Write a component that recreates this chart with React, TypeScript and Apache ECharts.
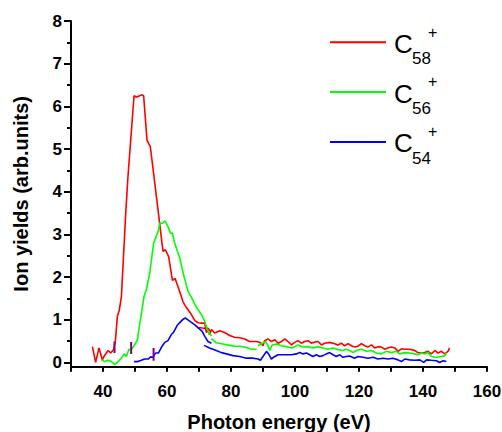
import React, { useEffect, useRef } from "react";
import * as echarts from "echarts";

// C58+ (red)
const c58X = [36.7, 37.7, 38.75, 39.8, 40.3, 41.6, 42.4, 43.4, 43.9, 44.5, 45.1, 45.75, 47.1, 47.8, 49.7, 50.4, 51.25, 52.0, 52.7, 53.75, 54.8, 56.7, 58.75, 59.5, 60.5, 61.7, 62.5, 63.5, 64.5, 65.0, 66.1, 67.3, 68.7, 69.7, 70.8, 71.8, 72.3, 72.8, 73.3, 73.9, 74.9, 76.5, 78.0, 79.6, 81.1, 82.7, 84.3, 85.8, 87.9, 89.0, 90.0, 90.5, 91.6, 92.6, 93.7, 94.7, 95.75, 96.8, 97.8, 98.9, 99.9, 100.9, 102.0, 103.0, 104.1, 105.1, 106.2, 107.2, 108.25, 109.3, 110.8, 112.4, 113.4, 114.5, 115.5, 116.6, 117.6, 118.6, 119.7, 120.75, 121.8, 122.8, 123.9, 124.9, 126.0, 127.0, 128.0, 129.0, 130.1, 131.2, 132.2, 133.25, 134.3, 135.3, 136.4, 137.4, 138.4, 139.5, 140.5, 141.6, 142.6, 143.7, 144.7, 145.75, 146.8, 147.8, 148.3];
const c58Y = [0.37, 0.0, 0.34, 0.06, 0.14, 0.28, 0.22, 0.31, 0.53, 1.08, 1.23, 1.54, 3.49, 4.35, 6.25, 6.22, 6.24, 6.27, 6.25, 5.21, 5.05, 3.88, 2.6, 2.64, 2.48, 1.92, 1.97, 1.76, 1.54, 1.42, 1.28, 1.16, 0.98, 0.93, 0.92, 0.92, 0.7, 0.76, 0.65, 0.77, 0.69, 0.74, 0.7, 0.63, 0.59, 0.58, 0.55, 0.49, 0.49, 0.47, 0.39, 0.51, 0.55, 0.49, 0.53, 0.45, 0.49, 0.55, 0.49, 0.41, 0.47, 0.51, 0.45, 0.49, 0.51, 0.45, 0.48, 0.49, 0.41, 0.45, 0.47, 0.44, 0.41, 0.45, 0.39, 0.44, 0.39, 0.36, 0.38, 0.44, 0.39, 0.36, 0.41, 0.34, 0.37, 0.36, 0.31, 0.34, 0.36, 0.34, 0.26, 0.32, 0.31, 0.31, 0.3, 0.28, 0.23, 0.22, 0.23, 0.26, 0.2, 0.28, 0.22, 0.26, 0.2, 0.26, 0.34];
const c58bX = [70.0, 71.5, 72.8, 73.8];
const c58bY = [0.82, 0.8, 0.8, 0.72];

// C56+ (green)
const c56X = [39.5, 40.5, 41.6, 42.6, 43.7, 44.7, 45.75, 46.6, 47.3, 48.1, 48.9, 49.9, 50.75, 51.5, 52.2, 52.8, 53.6, 54.6, 55.8, 57.2, 57.7, 58.6, 59.4, 60.3, 61.1, 61.7, 62.4, 64.0, 65.2, 66.6, 67.6, 69.2, 70.75, 71.8, 72.5, 73.1, 73.6, 74.0];
const c56Y = [0.06, 0.02, 0.05, 0.02, -0.05, 0.02, 0.1, 0.2, 0.14, 0.3, 0.31, 0.41, 0.53, 0.92, 1.23, 1.54, 1.72, 2.09, 2.79, 3.06, 3.26, 3.26, 3.32, 3.18, 3.03, 3.03, 2.79, 2.44, 2.05, 1.66, 1.53, 1.29, 1.12, 0.96, 0.8, 0.7, 0.65, 0.62];
const c56bX = [73.9, 75.4, 77.5, 79.6, 81.2, 82.7, 84.8, 86.4, 88.0];
const c56bY = [0.56, 0.46, 0.43, 0.4, 0.38, 0.38, 0.35, 0.31, 0.31];
const c56cX = [88.4, 89.8, 90.8, 91.6, 92.1, 92.9, 94.2, 95.75, 97.3, 98.9, 99.9, 100.9, 102.5, 104.1, 105.6, 107.2, 108.75, 110.3, 111.9, 113.4, 115.0, 116.0, 117.6, 118.1, 119.2, 120.75, 122.3, 123.9, 125.4, 127.0, 128.6, 130.1, 131.7, 132.7, 134.3, 135.9, 137.4, 138.4, 139.5, 140.5, 141.6, 142.6, 144.2, 145.75, 146.8, 147.3];
const c56cY = [0.39, 0.45, 0.49, 0.39, 0.28, 0.41, 0.43, 0.39, 0.37, 0.34, 0.37, 0.41, 0.36, 0.37, 0.34, 0.37, 0.34, 0.31, 0.34, 0.3, 0.28, 0.31, 0.26, 0.23, 0.28, 0.31, 0.26, 0.28, 0.22, 0.2, 0.26, 0.23, 0.26, 0.2, 0.23, 0.22, 0.2, 0.18, 0.22, 0.2, 0.23, 0.14, 0.12, 0.14, 0.16, 0.22];

// C54+ (blue)
const c54X = [49.7, 50.9, 52.0, 53.0, 54.1, 54.9, 55.6, 56.4, 57.3, 58.3, 59.3, 60.3, 61.4, 62.0, 63.2, 64.2, 65.0, 65.8, 67.1, 68.7, 70.2, 71.0, 71.8, 72.8, 73.9];
const c54Y = [0.02, 0.02, 0.05, 0.08, 0.08, 0.13, 0.12, 0.22, 0.22, 0.36, 0.47, 0.51, 0.66, 0.7, 0.87, 0.95, 1.01, 1.04, 0.97, 0.88, 0.78, 0.73, 0.61, 0.49, 0.45];
const c54bX = [71.6, 73.3, 75.4, 77.0, 78.6, 80.6, 82.7, 84.8, 86.9, 88.4, 89.2, 90.0, 91.1, 91.9, 92.6, 93.7, 94.7, 96.8, 98.9, 100.4, 101.5, 102.5, 103.6, 104.6, 105.6, 106.7, 107.7, 108.75, 109.8, 110.8, 111.9, 112.9, 114.0, 115.0, 116.0, 117.1, 118.6, 119.7, 121.25, 122.8, 124.4, 125.9, 127.5, 129.0, 130.6, 132.2, 133.25, 134.3, 135.8, 137.4, 139.0, 140.2, 141.1, 142.6, 144.2, 145.2, 146.25, 147.3];
const c54bY = [0.4, 0.34, 0.28, 0.23, 0.2, 0.16, 0.14, 0.1, 0.1, 0.08, 0.05, 0.14, 0.26, 0.18, 0.08, 0.14, 0.18, 0.18, 0.18, 0.2, 0.23, 0.2, 0.22, 0.18, 0.14, 0.18, 0.14, 0.16, 0.2, 0.23, 0.18, 0.14, 0.18, 0.12, 0.14, 0.15, 0.1, 0.14, 0.12, 0.1, 0.12, 0.08, 0.1, 0.08, 0.1, 0.06, 0.02, 0.08, 0.06, 0.05, 0.06, 0.0, 0.06, 0.05, 0.04, 0.0, 0.04, 0.02];

// threshold markers (purple)
const markX = [43.6, 48.8, 55.8];
const markLow = [0.22, 0.2, 0.04];
const markHigh = [0.49, 0.48, 0.34];

const yMajor = [0, 1, 2, 3, 4, 5, 6, 7, 8];
const yMinor = [0.5, 1.5, 2.5, 3.5, 4.5, 5.5, 6.5, 7.5];

const legendNames = ["58", "56", "54"];
const legendColors = ["#ff0000", "#00ff00", "#0000ff"];

const zip = (xs: number[], ys: number[]) => xs.map((x, i) => [x, ys[i]]);

const FONT = "'Liberation Sans', Arial, sans-serif";

export default function App() {
  const ref = useRef<HTMLDivElement>(null);
  useEffect(() => {
    if (!ref.current) return;
    const chart = echarts.init(ref.current, undefined, { renderer: "svg" });
    const line = (data: number[][], color: string, width = 1.6) => ({
      type: "line",
      data,
      showSymbol: false,
      symbol: "none",
      silent: true,
      lineStyle: { color, width },
      itemStyle: { color },
    });
    const series: any[] = [
      line(zip(c58X, c58Y), "#ff0000"),
      line(zip(c58bX, c58bY), "#ff0000"),
      line(zip(c56X, c56Y), "#00ff00"),
      line(zip(c56bX, c56bY), "#00ff00"),
      line(zip(c56cX, c56cY), "#00ff00"),
      line(zip(c54X, c54Y), "#0000ff"),
      line(zip(c54bX, c54bY), "#0000ff"),
      ...markX.map((x, i) => line([[x, markLow[i]], [x, markHigh[i]]], "#800080", 2)),
    ];
    const graphics: any[] = [];
    legendNames.forEach((n, i) => {
      const dy = i * 49.8;
      graphics.push({
        type: "line",
        shape: { x1: 330, y1: 42.3 + dy, x2: 386, y2: 42.3 + dy },
        style: { stroke: legendColors[i], lineWidth: 2 },
      });
      graphics.push({
        type: "text",
        style: { x: 394, y: 43.7 + dy, text: "C", font: `26px ${FONT}`, fill: "#000", textAlign: "left", textVerticalAlign: "middle", verticalAlign: "middle" },
      });
      graphics.push({
        type: "text",
        style: { x: 412, y: 58.5 + dy, text: n, font: `17px ${FONT}`, fill: "#000", textAlign: "left", textVerticalAlign: "middle", verticalAlign: "middle" },
      });
      graphics.push({
        type: "text",
        style: { x: 428, y: 32 + dy, text: "+", font: `16px ${FONT}`, fill: "#000", textAlign: "left", textVerticalAlign: "middle", verticalAlign: "middle" },
      });
    });
    chart.setOption({
      animation: false,
      backgroundColor: "#fff",
      grid: { left: 71, right: 15, top: 21, bottom: 65.3, containLabel: false, outerBoundsMode: "none" },
      xAxis: {
        type: "value",
        min: 30,
        max: 160,
        interval: 10,
        name: "Photon energy (eV)",
        nameLocation: "middle",
        nameGap: 45,
        nameTextStyle: { fontFamily: FONT, fontWeight: "bold", fontSize: 20, color: "#000" },
        axisLine: { show: true, onZero: false, lineStyle: { color: "#000", width: 2 } },
        axisTick: { show: true, length: 5, lineStyle: { color: "#000", width: 2 } },
        axisLabel: {
          fontFamily: FONT,
          fontWeight: "bold",
          fontSize: 17,
          color: "#000",
          margin: 16,
          formatter: (v: number) => (v % 20 === 0 ? String(v) : ""),
        },
        splitLine: { show: false },
      },
      yAxis: [
        {
          type: "value",
          min: -0.1,
          max: 8,
          name: "Ion yields (arb.units)",
          nameLocation: "middle",
          nameGap: 40,
          nameTextStyle: { fontFamily: FONT, fontWeight: "bold", fontSize: 20, color: "#000" },
          axisLine: { show: true, onZero: false, lineStyle: { color: "#000", width: 2 } },
          axisTick: { show: true, length: 7, customValues: yMajor, lineStyle: { color: "#000", width: 2 } },
          axisLabel: { customValues: yMajor, fontFamily: FONT, fontWeight: "bold", fontSize: 17, color: "#000", margin: 9 },
          splitLine: { show: false },
        },
        {
          type: "value",
          min: -0.1,
          max: 8,
          position: "left",
          axisLine: { show: false },
          axisTick: { show: true, length: 4, customValues: yMinor, lineStyle: { color: "#000", width: 2 } },
          axisLabel: { show: false },
          splitLine: { show: false },
        },
      ],
      series,
      graphic: graphics,
    });
    return () => chart.dispose();
  }, []);
  return (
    <div
      ref={ref}
      style={{ position: "fixed", left: 0, top: 0, width: 502, height: 432 }}
    />
  );
}
